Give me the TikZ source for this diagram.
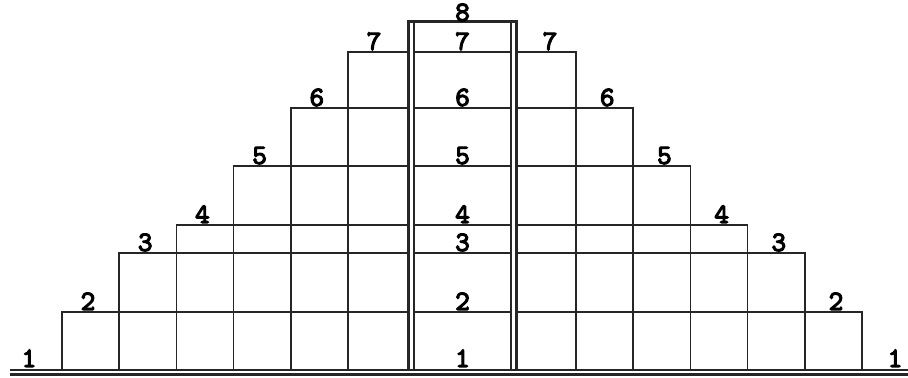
\documentclass[tikz,border=0pt]{standalone}
\usepackage{fontspec}
\newfontfamily\numfont[FakeBold=4]{lmmono10-regular.otf}

\begin{document}
\begin{tikzpicture}[x=0.5pt,y=0.5pt,
  num/.style={font=\numfont\fontsize{14}{15}\selectfont,inner sep=0pt,anchor=base},
  thin/.style={line width=0.8pt,black!85},
  wallline/.style={line width=1.5pt,black!85}]
  \useasboundingbox (0,0) rectangle (908,378);
  \def\gnd{8}
  \def\dx{57.2}
  \def\pl{408} \def\pli{414} \def\pri{511} \def\pr{516}
  \def\top{356}

  % ground
  \draw[thin] (10,\gnd) -- (908,\gnd);
  \draw[wallline] (10,3) -- (908,3);

  % steps on both sides and rungs inside the column
  \foreach \k/\h in {2/66,3/125,4/153,5/212,6/270,7/326}{
    \pgfmathsetmacro\xl{62+\dx*(\k-2)}
    \pgfmathsetmacro\xr{862-\dx*(\k-2)}
    \draw[thin] (\xl,\gnd) -- (\xl,\h) -- (\pl,\h);
    \draw[thin] (\pr,\h) -- (\xr,\h) -- (\xr,\gnd);
    \draw[thin] (\pli,\h) -- (\pri,\h);
    \node[num] (l\k) at (\xl+26,\h+2) {\k};
    \node[num] (r\k) at (\xr-26,\h+2) {\k};
    \node[num] (c\k) at (462.5,\h+2) {\k};
  }

  % column
  \draw[wallline] (\pl,\gnd) -- (\pl,\top) -- (\pr,\top) -- (\pr,\gnd);
  \draw[thin] (\pli,\gnd) -- (\pli,\top);
  \draw[thin] (\pri,\gnd) -- (\pri,\top);

  \node[num] (l1) at (29,11) {1};
  \node[num] (c1) at (462.5,11) {1};
  \node[num] (r1) at (895,11) {1};
  \node[num] (c8) at (462.5,\top+1) {8};
\end{tikzpicture}
\end{document}
